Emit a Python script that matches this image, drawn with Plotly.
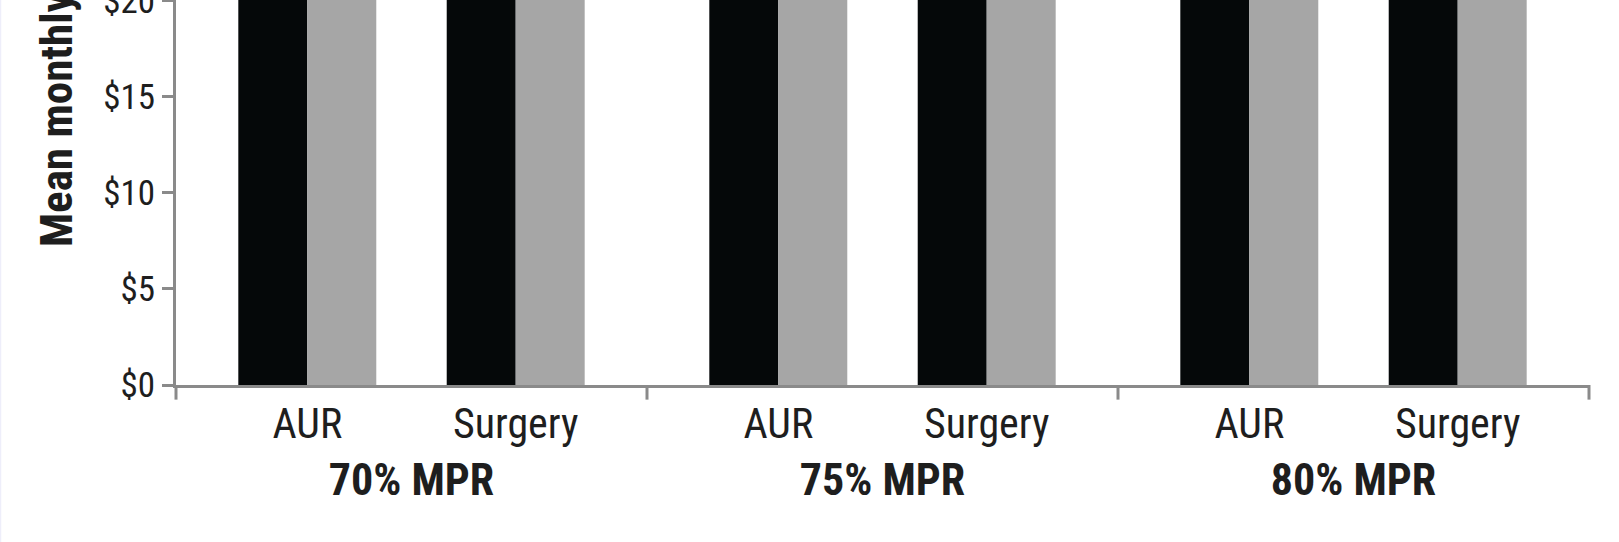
import plotly.graph_objects as go

groups = ["70% MPR", "75% MPR", "80% MPR"]
categories = ["AUR", "Surgery"]
# Bars extend above the visible (cropped) top of the chart at $20
series_a = [[27.5, 31.0], [26.0, 29.5], [24.5, 28.0]]
series_b = [[28.5, 32.0], [27.0, 30.5], [25.5, 29.0]]
series_names = ["Series A", "Series B"]
y_ticks = [0, 5, 10, 15, 20]
y_tick_labels = ["$0", "$5", "$10", "$15", "$20"]
y_title = "Mean monthly cost"

FONT = "Liberation Sans Narrow, Arial Narrow, Roboto Condensed, DejaVu Sans Condensed, sans-serif"
AXIS_COLOR = "#8a8a8a"
TEXT_COLOR = "#1e1e1e"

fig = go.Figure()
for gi, g in enumerate(groups):
    xa = "x" if gi == 0 else f"x{gi+1}"
    fig.add_trace(go.Bar(x=categories, y=series_a[gi], name=series_names[0],
                         marker=dict(color="#050809", line_width=0),
                         xaxis=xa, yaxis="y", offsetgroup="a", showlegend=False))
    fig.add_trace(go.Bar(x=categories, y=series_b[gi], name=series_names[1],
                         marker=dict(color="#a6a6a6", line_width=0),
                         xaxis=xa, yaxis="y", offsetgroup="b", showlegend=False))

layout = dict(
    width=1619, height=542,
    margin=dict(l=176, r=30, t=0, b=157, autoexpand=False),
    paper_bgcolor="white", plot_bgcolor="white",
    barmode="group", bargap=0.338, bargroupgap=0,
    font=dict(family=FONT, color=TEXT_COLOR),
    yaxis=dict(range=[0, 20.04], tickvals=y_ticks, ticktext=y_tick_labels,
               showline=True, linecolor=AXIS_COLOR, linewidth=3,
               ticks="outside", ticklen=11, tickwidth=3, tickcolor=AXIS_COLOR,
               showgrid=False, zeroline=False, automargin=False,
               ticklabeloverflow="allow",
               tickfont=dict(size=35, family=FONT, color=TEXT_COLOR)),
)
for gi, g in enumerate(groups):
    key = "xaxis" if gi == 0 else f"xaxis{gi+1}"
    layout[key] = dict(
        domain=[gi / 3, (gi + 1) / 3], anchor="y", type="category",
        range=[-0.63, 1.63], showline=True, linecolor=AXIS_COLOR, linewidth=3,
        ticks="", showgrid=False, zeroline=False, automargin=False,
        tickfont=dict(size=42, family=FONT, color=TEXT_COLOR),
        title=dict(text=f"<b>{g}</b>", standoff=17,
                   font=dict(size=44, family=FONT, color=TEXT_COLOR)),
    )
fig.update_layout(**layout)

# divider ticks at group boundaries
for b in [0, 1 / 3, 2 / 3, 1]:
    fig.add_shape(type="line", xref="paper", yref="paper", x0=b, x1=b,
                  y0=0, y1=-0.038, line=dict(color=AXIS_COLOR, width=3))

# faint left border of the source image
fig.add_shape(type="line", xref="paper", yref="paper",
              x0=-175.5 / 1413, x1=-175.5 / 1413, y0=-0.5, y1=1.2,
              line=dict(color="#eeeefa", width=1.5))

# rotated y-axis title (cropped at top in the source)
fig.add_annotation(text=f"<b>{y_title}</b>", textangle=-90,
                   xref="paper", yref="paper",
                   x=(56 - 176) / 1413, y=(385 - 249) / 385,
                   xanchor="center", yanchor="bottom", showarrow=False,
                   font=dict(size=45, family=FONT, color=TEXT_COLOR))

fig.write_html("out.html", config={"displayModeBar": False},
               post_script="document.body.style.margin='0';document.body.style.overflow='hidden';")
